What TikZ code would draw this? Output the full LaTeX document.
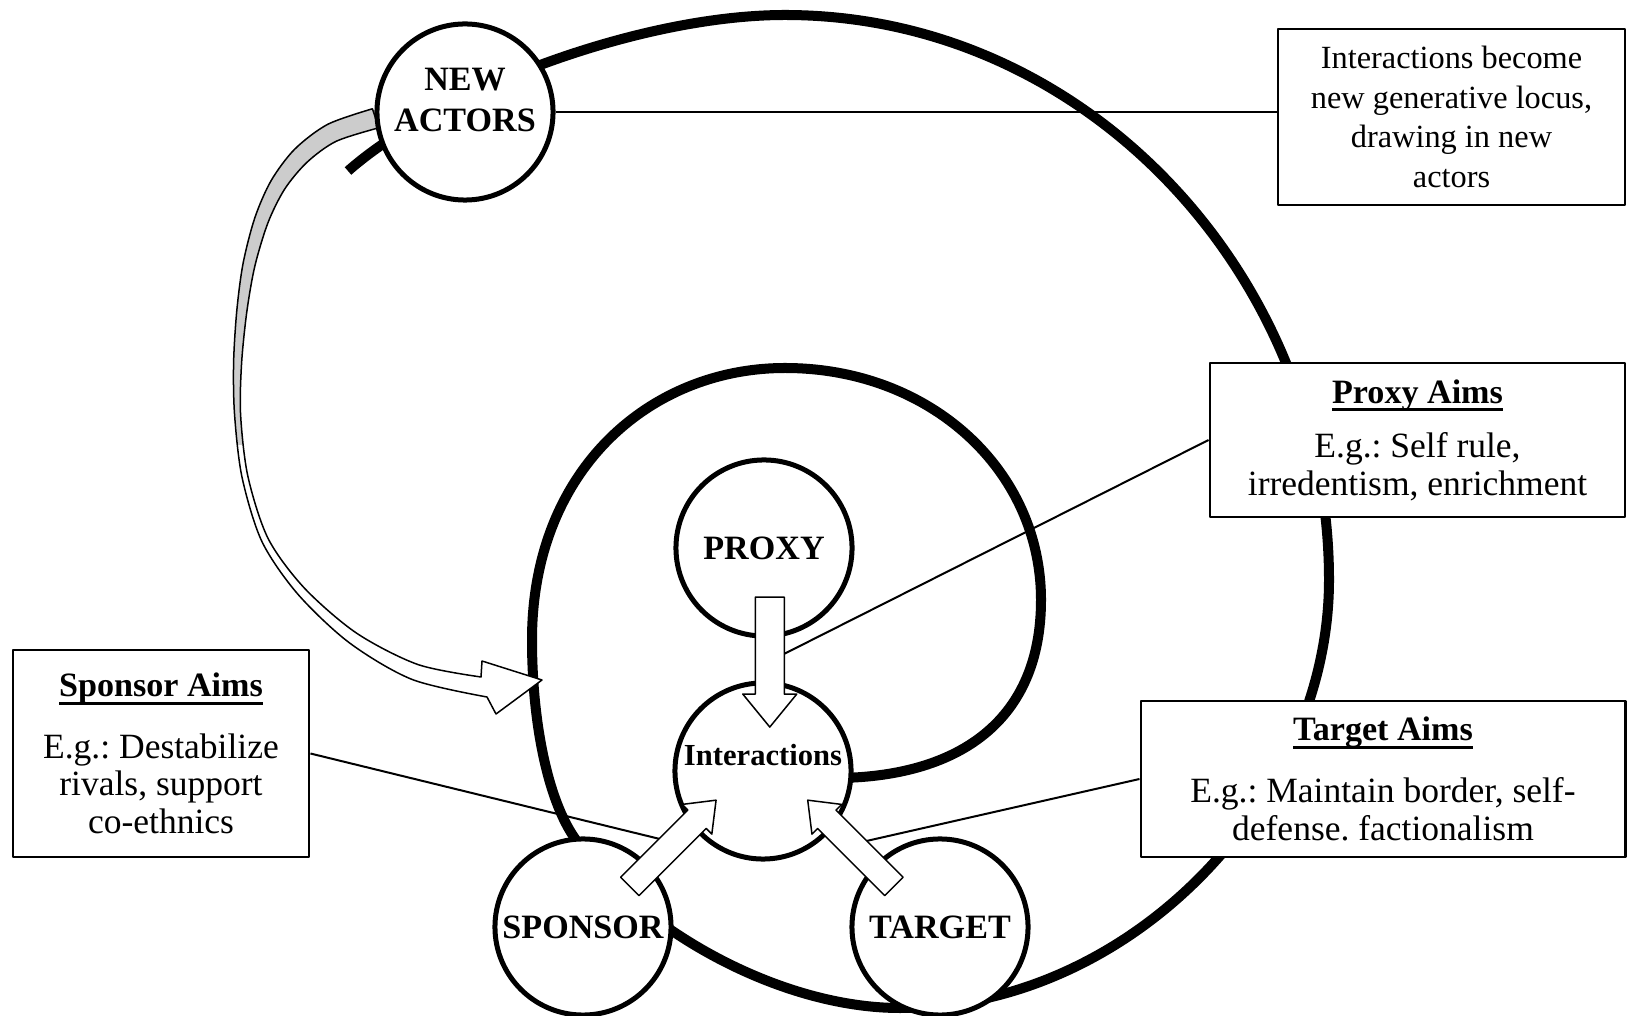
\documentclass[tikz,border=0pt]{standalone}
\usepackage{fontspec}
\setmainfont{Liberation Serif}
\usetikzlibrary{calc}
\frenchspacing
\tikzset{
  pics/blockarrow/.style n args={4}{code={
    \draw[line width=0.015cm,fill=white] (0,-#1) -- (#4-#3,-#1) -- (#4-#3,-#2) -- (#4,0)
      -- (#4-#3,#2) -- (#4-#3,#1) -- (0,#1) -- cycle;}}
}
\newcommand{\aimhead}[1]{\setbox0\hbox{\bfseries\fontsize{9.7}{10.7}\selectfont #1}\leavevmode\rlap{\rule[-2.4pt]{\wd0}{0.85pt}}\box0}
\newcommand{\feedbackpath}{plot[smooth] coordinates {(372.4,108.8) (327.8,124.3) (294.8,149.1) (271.2,180.5) (254.9,217.6) (243.1,263.3) (236.8,310.7) (233.6,362.8) (234.6,415.2) (242.1,477.6) (261.9,541.5) (297.7,594) (349.5,642.9) (412.2,679.5) (487,697)}
  -- (496,714) -- (542,680) -- (482,661)
  -- plot[smooth] coordinates {(481,677) (417.8,664.5) (356.5,633.1) (304.3,588) (268.1,538.5) (247.9,476.4) (240.6,414.8) (241.6,363.2) (246.8,311.9) (254.9,265.9) (268.1,222.4) (284.8,188.9) (307.2,162.1) (336.2,141.3) (378.8,127.8)} -- cycle}
\begin{document}
\begin{tikzpicture}[x=0.01cm,y=-0.01cm,line join=round,
  actor/.style={circle,draw,line width=0.05cm,fill=white,minimum size=1.76cm,inner sep=0pt,
    font=\bfseries\fontsize{9.7}{11.6}\selectfont},
  actortext/.style={align=center,inner sep=0pt,font=\bfseries\fontsize{9.7}{11.6}\selectfont},
  aimbox/.style={draw,line width=0.027cm,fill=white,align=center,inner sep=0pt,
    font=\fontsize{10.1}{10.7}\selectfont},
  link/.style={line width=0.02cm}]
  \useasboundingbox (0,0) rectangle (1627,1016);
  \draw[line width=0.1cm] (348,171) .. controls (440,90) and (640,15) .. (785,15)
    .. controls (1090,15) and (1329,280) .. (1329,580)
    .. controls (1329,800) and (1130,1008) .. (900,1008)
    .. controls (780,1008) and (640,930) .. (576,840)
    .. controls (547,800) and (532,720) .. (532,640)
    .. controls (532,470) and (650,368) .. (785,368)
    .. controls (930,368) and (1041,470) .. (1041,600)
    .. controls (1041,720) and (960,776) .. (840,778);
  \fill[white] \feedbackpath;
  \begin{scope}
    \clip (0,0) rectangle (700,445);
    \fill[gray!40] \feedbackpath;
  \end{scope}
  \draw[line width=0.015cm] \feedbackpath;
  \node[aimbox,minimum width=3.47cm,minimum height=1.76cm,font=\fontsize{9.2}{11.3}\selectfont] (locus) at (1451.5,117)
    {Interactions become\\new generative locus,\\drawing in new\\actors};
  \node[aimbox,minimum width=4.15cm,minimum height=1.54cm] (proxyaims) at (1417.5,440)
    {\aimhead{Proxy Aims}\\[4.8pt]E.g.: Self rule,\\irredentism, enrichment};
  \node[aimbox,minimum width=2.96cm,minimum height=2.07cm] (sponsoraims) at (161,753.5)
    {\aimhead{Sponsor Aims}\\[6.8pt]E.g.: Destabilize\\rivals, support\\co-ethnics};
  \node[aimbox,minimum width=4.84cm,minimum height=1.56cm] (targetaims) at (1383,779)
    {\aimhead{Target Aims}\\[7pt]E.g.: Maintain border, self-\\defense. factionalism};
  \node[actor] (newact) at (465,112) {};
  \node[actortext] (newtext) at (465,100) {NEW\\ACTORS};
  \node[actor] (proxy) at (764,548) {PROXY};
  \node[actor] (inter) at (763,771) {};
  \node[actortext,font=\bfseries\fontsize{8.7}{10}\selectfont] (intertext) at (763,755) {Interactions};
  \node[actor] (sponsor) at (583,927) {SPONSOR};
  \node[actor] (target) at (940,927) {TARGET};
  \coordinate (pjoin) at (778,657);
  \coordinate (sjoin) at (664,840);
  \coordinate (tjoin) at (862,842);
  \draw[link] (newact.east) -- (newact.east -| locus.west);
  \draw[link] (proxyaims.west) -- (pjoin);
  \draw[link] (sponsoraims.east) -- (sjoin);
  \draw[link] (targetaims.west) -- (tjoin);
  \pic[rotate=-90] at ($(proxy)!0.22!(inter)+(6,0)$) {blockarrow={14.5}{27}{33}{130}};
  \pic[rotate=45] at ($(sponsor)!0.26!(inter)$) {blockarrow={13}{21}{27}{122}};
  \pic[rotate=135] at ($(target)!0.26!(inter)$) {blockarrow={13}{21}{27}{122}};
\end{tikzpicture}
\end{document}
